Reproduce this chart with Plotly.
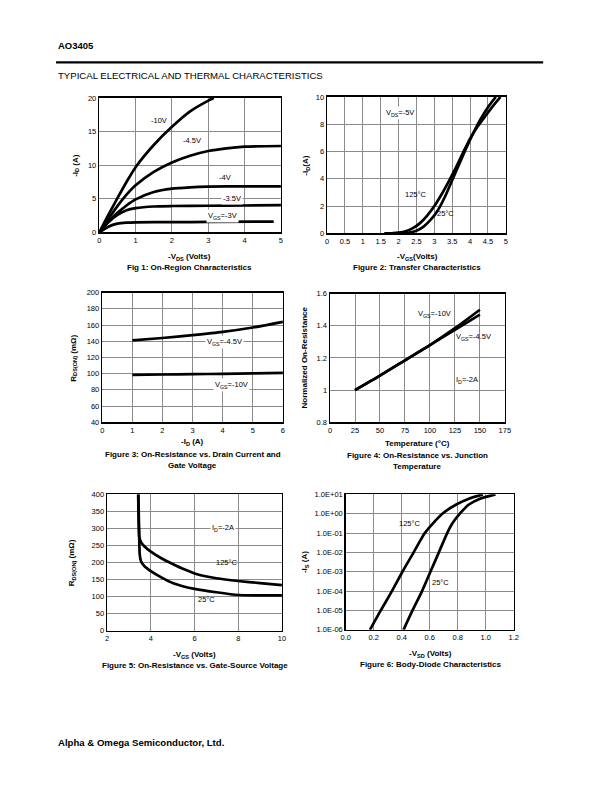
import plotly.graph_objects as go

W, H = 612, 792
FONT = "Liberation Sans, Arial, sans-serif"

# ---------------- Data ----------------
# Fig 1: On-region characteristics (-VDS vs -ID)
f1_x_10v = [0, 0.25, 0.5, 0.75, 1.0, 1.5, 2.0, 2.5, 3.0, 3.15]
f1_y_10v = [0, 2.6, 5.1, 7.5, 9.7, 13.0, 15.7, 18.0, 19.6, 20.0]
f1_x_45v = [0, 0.25, 0.5, 0.75, 1.0, 1.5, 2.0, 2.5, 3.0, 3.5, 4.0, 5.0]
f1_y_45v = [0, 2.0, 3.9, 5.6, 7.0, 9.0, 10.4, 11.4, 12.1, 12.5, 12.75, 12.85]
f1_x_4v = [0, 0.25, 0.5, 0.75, 1.0, 1.5, 2.0, 2.5, 3.0, 4.0, 5.0]
f1_y_4v = [0, 1.6, 2.9, 4.0, 4.9, 6.0, 6.5, 6.7, 6.8, 6.85, 6.85]
f1_x_35v = [0, 0.25, 0.5, 0.75, 1.0, 1.5, 2.0, 3.0, 4.0, 5.0]
f1_y_35v = [0, 1.5, 2.6, 3.3, 3.6, 3.85, 3.92, 3.96, 4.0, 4.05]
f1_x_3v = [0, 0.25, 0.5, 0.75, 1.0, 2.0, 3.0, 4.8]
f1_y_3v = [0, 0.85, 1.3, 1.45, 1.5, 1.52, 1.55, 1.6]

# Fig 2: Transfer characteristics
f2_x_125 = [1.6, 1.8, 2.0, 2.2, 2.4, 2.6, 2.8, 3.0, 3.2, 3.4, 3.6, 3.8, 4.0, 4.2, 4.4, 4.6, 4.85]
f2_y_125 = [0, 0.01, 0.05, 0.15, 0.38, 0.75, 1.3, 2.0, 2.85, 3.8, 4.8, 5.9, 6.95, 7.8, 8.5, 9.2, 10.0]
f2_x_25 = [2.1, 2.3, 2.5, 2.7, 2.9, 3.1, 3.3, 3.5, 3.7, 3.9, 4.1, 4.3, 4.5, 4.72]
f2_y_25 = [0, 0.06, 0.2, 0.5, 1.0, 1.7, 2.7, 3.9, 5.1, 6.3, 7.4, 8.4, 9.25, 10.0]

# Fig 3: On-resistance vs drain current
f3_x = [1, 2, 3, 4, 5, 6]
f3_y_45v = [141, 144, 147.5, 151.5, 157, 164]
f3_y_10v = [98.5, 98.9, 99.3, 99.8, 100.4, 101]

# Fig 4: Normalized on-resistance vs temperature
f4_x = [25, 50, 75, 100, 125, 150]
f4_y_10v = [1.0, 1.09, 1.185, 1.28, 1.385, 1.50]
f4_y_45v = [1.0, 1.09, 1.185, 1.28, 1.375, 1.47]

# Fig 5: On-resistance vs gate-source voltage
f5_x_125 = [3.42, 3.44, 3.47, 3.55, 3.7, 4.0, 4.5, 5.0, 5.5, 6.0, 6.5, 7.0, 8.0, 9.0, 10.0]
f5_y_125 = [400, 330, 275, 260, 248, 232, 212, 196, 181, 168, 160, 154, 146, 140, 134]
f5_x_25 = [3.43, 3.46, 3.49, 3.55, 3.7, 4.0, 4.5, 5.0, 5.5, 6.0, 7.0, 8.0, 9.0, 10.0]
f5_y_25 = [400, 300, 225, 204, 190, 175, 156, 140, 130, 123, 113, 105, 104, 104]

# Fig 6: Body-diode characteristics
f6_x_125 = [0.173, 0.25, 0.33, 0.405, 0.485, 0.565, 0.62, 0.69, 0.79, 0.88, 0.98]
f6_y_125 = [1e-6, 1e-5, 1e-4, 1e-3, 1e-2, 1e-1, 0.3, 1.0, 3.0, 6.0, 10.0]
f6_x_25 = [0.413, 0.477, 0.545, 0.605, 0.665, 0.725, 0.76, 0.815, 0.88, 0.96, 1.07]
f6_y_25 = [1e-6, 1e-5, 1e-4, 1e-3, 1e-2, 1e-1, 0.3, 1.0, 3.0, 6.0, 10.0]
f6_tickvals = [1e-6, 1e-5, 1e-4, 1e-3, 1e-2, 1e-1, 1e0, 1e1]
f6_ticktext = ["1.0E-06", "1.0E-05", "1.0E-04", "1.0E-03", "1.0E-02", "1.0E-01", "1.0E+00", "1.0E+01"]

# ---------------- Layout helpers ----------------
panels = {
    1: (96, 281, 95, 231),
    2: (328, 510, 94, 232),
    3: (99, 283, 292, 423),
    4: (331, 509, 293, 423),
    5: (104, 282, 496, 634),
    6: (347, 518, 496, 633),
}

fig = go.Figure()

def line(x, y, n, smooth=0.7):
    fig.add_trace(go.Scatter(x=x, y=y, mode="lines",
                             line=dict(color="black", width=2.7, shape="spline", smoothing=smooth),
                             xaxis=f"x{n}", yaxis=f"y{n}", showlegend=False, hoverinfo="skip"))

line(f1_x_10v, f1_y_10v, 1)
line(f1_x_45v, f1_y_45v, 1)
line(f1_x_4v, f1_y_4v, 1)
line(f1_x_35v, f1_y_35v, 1)
line(f1_x_3v, f1_y_3v, 1)
line(f2_x_125, f2_y_125, 2)
line(f2_x_25, f2_y_25, 2)
line(f3_x, f3_y_45v, 3)
line(f3_x, f3_y_10v, 3)
line(f4_x, f4_y_10v, 4)
line(f4_x, f4_y_45v, 4)
line(f5_x_125, f5_y_125, 5, 0.4)
line(f5_x_25, f5_y_25, 5, 0.4)
line(f6_x_125, f6_y_125, 6)
line(f6_x_25, f6_y_25, 6)

axis_common = dict(showline=True, linecolor="black", linewidth=1.5, mirror=True,
                   showgrid=True, gridcolor="#8a8a8a", gridwidth=1, zeroline=False,
                   ticks="", tickfont=dict(family=FONT, size=7.5, color="black"),
                   fixedrange=True)

axis_specs = {
    1: (dict(range=[0, 5], dtick=1, tick0=0), dict(range=[0, 20], dtick=5, tick0=0)),
    2: (dict(range=[0, 5], dtick=0.5, tick0=0), dict(range=[0, 10], dtick=2, tick0=0)),
    3: (dict(range=[0, 6], dtick=1, tick0=0), dict(range=[40, 200], dtick=20, tick0=40)),
    4: (dict(range=[0, 175], dtick=25, tick0=0),
        dict(range=[0.8, 1.6], tickvals=[0.8, 1.0, 1.2, 1.4, 1.6],
             ticktext=["0.8", "1", "1.2", "1.4", "1.6"])),
    5: (dict(range=[2, 10], dtick=2, tick0=2), dict(range=[0, 400], dtick=50, tick0=0)),
    6: (dict(range=[0, 1.2], dtick=0.2, tick0=0, tickformat=".1f"),
        dict(type="log", range=[-6, 1], tickvals=f6_tickvals, ticktext=f6_ticktext)),
}

layout = dict(width=W, height=H, margin=dict(l=0, r=0, t=0, b=0),
              paper_bgcolor="white", plot_bgcolor="white", showlegend=False,
              font=dict(family=FONT, color="black"))
for n, (x0, x1, y0, y1) in panels.items():
    xs, ys = axis_specs[n]
    layout[f"xaxis{n}"] = dict(axis_common, domain=[x0 / W, x1 / W], anchor=f"y{n}", **xs)
    layout[f"yaxis{n}"] = dict(axis_common, domain=[1 - y1 / H, 1 - y0 / H], anchor=f"x{n}", **ys)
fig.update_layout(**layout)

ann = []

def ptext(text, x, y, size=8, bold=False, angle=0, xanchor="center"):
    t = f"<b>{text}</b>" if bold else text
    ann.append(dict(text=t, x=x / W, y=1 - y / H, xref="paper", yref="paper",
                    showarrow=False, textangle=angle, xanchor=xanchor, yanchor="middle",
                    font=dict(family=FONT, size=size, color="black")))

def dtext(text, x, y, n, size=7.5, bg=None):
    d = dict(text=text, x=x, y=y, xref=f"x{n}", yref=f"y{n}", showarrow=False,
             xanchor="center", yanchor="middle",
             font=dict(family=FONT, size=size, color="black"))
    if bg:
        d.update(bgcolor=bg, borderpad=1)
    ann.append(d)

# Header / footer
ptext("AO3405", 52, 42, size=9.5, bold=True, xanchor="left")
ptext("TYPICAL ELECTRICAL AND THERMAL CHARACTERISTICS", 52, 72, size=9.6, xanchor="left")
ptext("Alpha &amp; Omega Semiconductor, Ltd.", 52, 747, size=9.6, bold=True, xanchor="left")

# Axis titles & captions
ptext("-V<sub>DS</sub> (Volts)", 188, 256, size=8, bold=True)
ptext("Fig 1: On-Region Characteristics", 188, 267, size=8, bold=True)
ptext("-I<sub>D</sub> (A)", 72, 163, size=8, bold=True, angle=-90)

ptext("-V<sub>GS</sub>(Volts)", 420, 256, size=8, bold=True)
ptext("Figure 2: Transfer Characteristics", 420, 267, size=8, bold=True)
ptext("-I<sub>D</sub>(A)", 307, 163, size=8, bold=True, angle=-90)

ptext("-I<sub>D</sub> (A)", 191, 443, size=8, bold=True)
ptext("Figure 3: On-Resistance vs. Drain Current and", 191, 456, size=8, bold=True)
ptext("Gate Voltage", 191, 467, size=8, bold=True)
ptext("R<sub>DS(ON)</sub> (mΩ)", 70, 358, size=8, bold=True, angle=-90)

ptext("Temperature (°C)", 420, 445, size=8, bold=True)
ptext("Figure 4: On-Resistance vs. Junction", 420, 457, size=8, bold=True)
ptext("Temperature", 420, 468, size=8, bold=True)
ptext("Normalized On-Resistance", 305, 358, size=8, bold=True, angle=-90)

ptext("-V<sub>GS</sub> (Volts)", 193, 658, size=8, bold=True)
ptext("Figure 5: On-Resistance vs. Gate-Source Voltage", 193, 669, size=8, bold=True)
ptext("R<sub>DS(ON)</sub> (mΩ)", 68, 565, size=8, bold=True, angle=-90)

ptext("-V<sub>SD</sub> (Volts)", 433, 657, size=8, bold=True)
ptext("Figure 6: Body-Diode Characteristics", 433, 668, size=8, bold=True)
ptext("-I<sub>S</sub> (A)", 305, 565, size=8, bold=True, angle=-90)

# Curve labels
dtext("-10V", 1.65, 16.6, 1)
dtext("-4.5V", 2.54, 13.7, 1)
dtext("-4V", 3.46, 8.1, 1)
dtext("-3.5V", 3.65, 5.1, 1, bg="white")
dtext("V<sub>GS</sub>=-3V", 3.4, 2.5, 1, bg="white")

dtext("V<sub>DS</sub>=-5V", 2.03, 8.84, 2, bg="white")
dtext("125°C", 2.5, 2.83, 2)
dtext("25°C", 3.32, 1.45, 2)

dtext("V<sub>GS</sub>=-4.5V", 4.07, 139, 3, bg="white")
dtext("V<sub>GS</sub>=-10V", 4.3, 86, 3, bg="white")

dtext("V<sub>GS</sub>=-10V", 105, 1.473, 4)
dtext("V<sub>GS</sub>=-4.5V", 143.6, 1.33, 4)
dtext("I<sub>D</sub>=-2A", 136.7, 1.06, 4)

dtext("I<sub>D</sub>=-2A", 7.3, 300, 5, bg="white")
dtext("125°C", 7.48, 199, 5)
dtext("25°C", 6.55, 93, 5)

dtext("125°C", 0.46, -0.52, 6)
dtext("25°C", 0.68, -3.54, 6)

fig.update_layout(annotations=ann,
                  shapes=[dict(type="line", xref="paper", yref="paper",
                               x0=52 / W, x1=548 / W, y0=1 - 59 / H, y1=1 - 59 / H,
                               line=dict(color="black", width=2.2))])

fig.write_html("out.html",
               config={"displayModeBar": False, "staticPlot": True},
               post_script="document.body.style.margin='0px';document.body.style.overflow='hidden';")
